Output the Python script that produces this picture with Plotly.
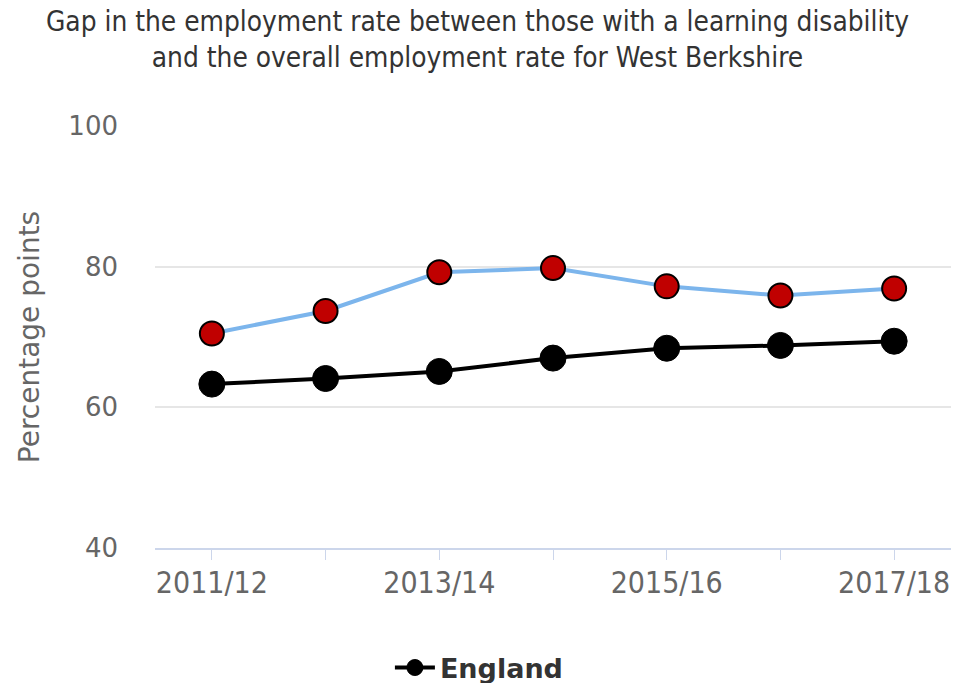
import plotly.graph_objects as go

categories = ["2011/12", "2012/13", "2013/14", "2014/15", "2015/16", "2016/17", "2017/18"]
tick_labels = ["2011/12", "", "2013/14", "", "2015/16", "", "2017/18"]
west_berkshire = [70.5, 73.7, 79.2, 79.8, 77.2, 75.9, 76.9]
england = [63.3, 64.1, 65.1, 67.0, 68.4, 68.8, 69.4]
y_ticks = [40, 60, 80, 100]

COND = "DejaVu Sans Condensed, DejaVu Sans, sans-serif"
REG = "DejaVu Sans, sans-serif"

fig = go.Figure()
fig.add_trace(go.Scatter(
    x=categories, y=west_berkshire, mode="lines+markers", name="West Berkshire",
    showlegend=False,
    line=dict(color="#7cb5ec", width=4),
    marker=dict(size=24, color="#c00000", line=dict(color="#000000", width=2)),
))
fig.add_trace(go.Scatter(
    x=categories, y=england, mode="lines+markers", name="England",
    line=dict(color="#000000", width=4),
    marker=dict(size=26, color="#000000", line=dict(color="#000000", width=1)),
))

fig.update_layout(
    width=955, height=683,
    margin=dict(l=155, r=4, t=126, b=135),
    paper_bgcolor="white", plot_bgcolor="white",
    font=dict(family=COND, color="#666666"),
    title=dict(
        text="Gap in the employment rate between those with a learning disability<br>and the overall employment rate for West Berkshire",
        x=0.5, xref="container", xanchor="center",
        y=0.955, yref="container", yanchor="middle",
        font=dict(family=COND, size=27.8, color="#333333"),
    ),
    showlegend=True,
    legend=dict(
        orientation="h", x=0.502, xref="container", xanchor="center",
        y=0.022, yref="container", yanchor="middle",
        font=dict(family=REG, size=27, color="#333333", weight="bold"),
        itemwidth=40,
    ),
)

fig.update_xaxes(
    type="category", range=[-0.5, 6.5],
    tickmode="array", tickvals=categories, ticktext=tick_labels,
    showgrid=False, showline=True, linecolor="#ccd6eb", linewidth=2,
    ticks="outside", ticklen=10, tickcolor="#ccd6eb", tickwidth=1,
    tickfont=dict(family=COND, size=30, color="#666666"),
    ticklabelstandoff=-3,
    zeroline=False,
)
fig.update_yaxes(
    range=[40, 100], tickmode="array", tickvals=y_ticks,
    showgrid=True, gridcolor="#e6e6e6", gridwidth=2,
    showline=False, zeroline=False,
    tickfont=dict(family=REG, size=26, color="#666666"),
    ticklabelstandoff=36,
    title=dict(text="Percentage points", font=dict(family=REG, size=28, color="#666666"), standoff=20),
)

fig.write_html("out.html")
